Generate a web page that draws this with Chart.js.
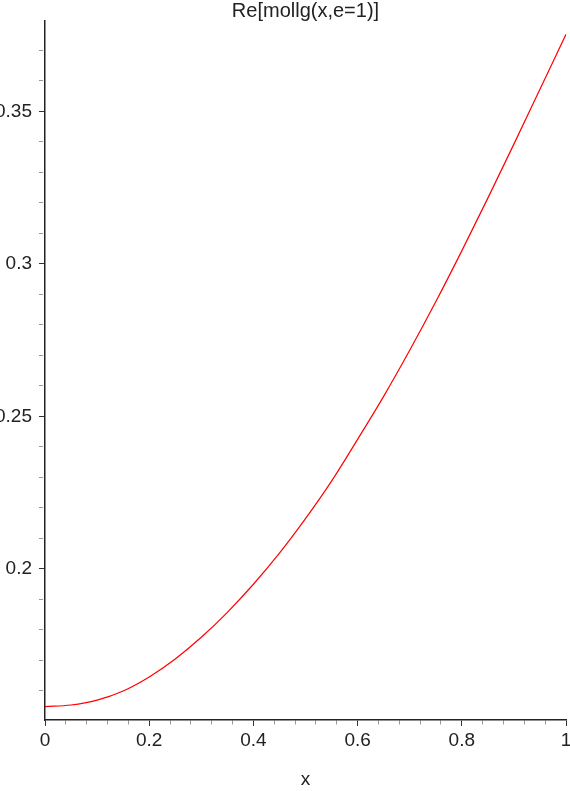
<!DOCTYPE html>
<html>
<head>
<meta charset="utf-8">
<script src="https://cdn.jsdelivr.net/npm/chart.js@4/dist/chart.umd.min.js"></script>
<style>
    html, body {margin: 0; padding: 0; background: #fff; overflow: hidden;}
</style>
</head>
<body>
<canvas id="plot" width="570" height="791"></canvas>
<script>
const xValues = [0, 0.05, 0.1, 0.15, 0.2, 0.25, 0.3, 0.35, 0.4, 0.45, 0.5,
    0.55, 0.6, 0.65, 0.7, 0.75, 0.8, 0.85, 0.9, 0.95, 1];
const reValues = [0.1549, 0.1554, 0.1570, 0.1600, 0.1646, 0.1705, 0.1776, 0.1858, 0.1950, 0.2052, 0.2165,
    0.2288, 0.2425, 0.2566, 0.2717, 0.2876, 0.3043, 0.3216, 0.3393, 0.3573, 0.3753];
const xMajorTicks = [0, 0.2, 0.4, 0.6, 0.8, 1];
const yMajorTicks = [0.2, 0.25, 0.3, 0.35];

const FONT = '"Liberation Sans", Arial, Helvetica, sans-serif';
const isMajor = (v, list) => list.some(m => Math.abs(v - m) < 1e-6);

new Chart(document.getElementById('plot').getContext('2d'), {
    type: 'line',
    data: {
        datasets: [{
            data: xValues.map((x, i) => ({x, y: reValues[i]})),
            borderColor: '#ff0000',
            borderWidth: 1.2,
            pointRadius: 0,
            cubicInterpolationMode: 'monotone',
            fill: false
        }]
    },
    options: {
        responsive: false,
        animation: false,
        devicePixelRatio: 1,
        layout: {padding: {left: 0, right: 4, top: 0, bottom: 0}},
        plugins: {
            legend: {display: false},
            tooltip: {enabled: false},
            title: {
                display: true,
                fullSize: false,
                text: 'Re[mollg(x,e=1)]',
                color: '#222',
                font: {family: FONT, size: 20, weight: 'normal', lineHeight: 1},
                padding: {top: 1, bottom: 0}
            }
        },
        scales: {
            x: {
                type: 'linear',
                min: 0,
                max: 1,
                ticks: {
                    stepSize: 0.04,
                    autoSkip: false,
                    maxRotation: 0,
                    padding: 3,
                    color: '#222',
                    font: {family: FONT, size: 19},
                    callback: v => isMajor(v, xMajorTicks) ? String(Math.round(v * 10) / 10) : ''
                },
                grid: {
                    drawOnChartArea: false,
                    tickLength: 6,
                    tickColor: ctx => isMajor(ctx.tick.value, xMajorTicks) ? '#333' : '#999',
                    tickBorderDash: ctx => isMajor(ctx.tick.value, xMajorTicks) ? [] : [4, 100]
                },
                border: {color: '#222', width: 1.5},
                title: {
                    display: true,
                    text: 'x',
                    color: '#222',
                    font: {family: FONT, size: 19},
                    padding: {top: 0, bottom: 0}
                },
                afterFit: s => {
                    s.height = 71;
                    s.paddingLeft = 0;
                    s.paddingRight = 0;
                }
            },
            y: {
                type: 'linear',
                min: 0.15049,
                max: 0.37967,
                ticks: {
                    stepSize: 0.01,
                    includeBounds: false,
                    autoSkip: false,
                    padding: 7,
                    color: '#222',
                    font: {family: FONT, size: 19},
                    callback: v => isMajor(v, yMajorTicks) ? String(Math.round(v * 100) / 100) : ''
                },
                grid: {
                    drawOnChartArea: false,
                    tickLength: 6,
                    tickColor: ctx => isMajor(ctx.tick.value, yMajorTicks) ? '#333' : '#999',
                    tickBorderDash: ctx => isMajor(ctx.tick.value, yMajorTicks) ? [] : [4, 100]
                },
                border: {color: '#222', width: 1.5},
                afterFit: s => {
                    s.width = 45;
                    s.paddingTop = 0;
                    s.paddingBottom = 0;
                }
            }
        }
    }
});
</script>
</body>
</html>
